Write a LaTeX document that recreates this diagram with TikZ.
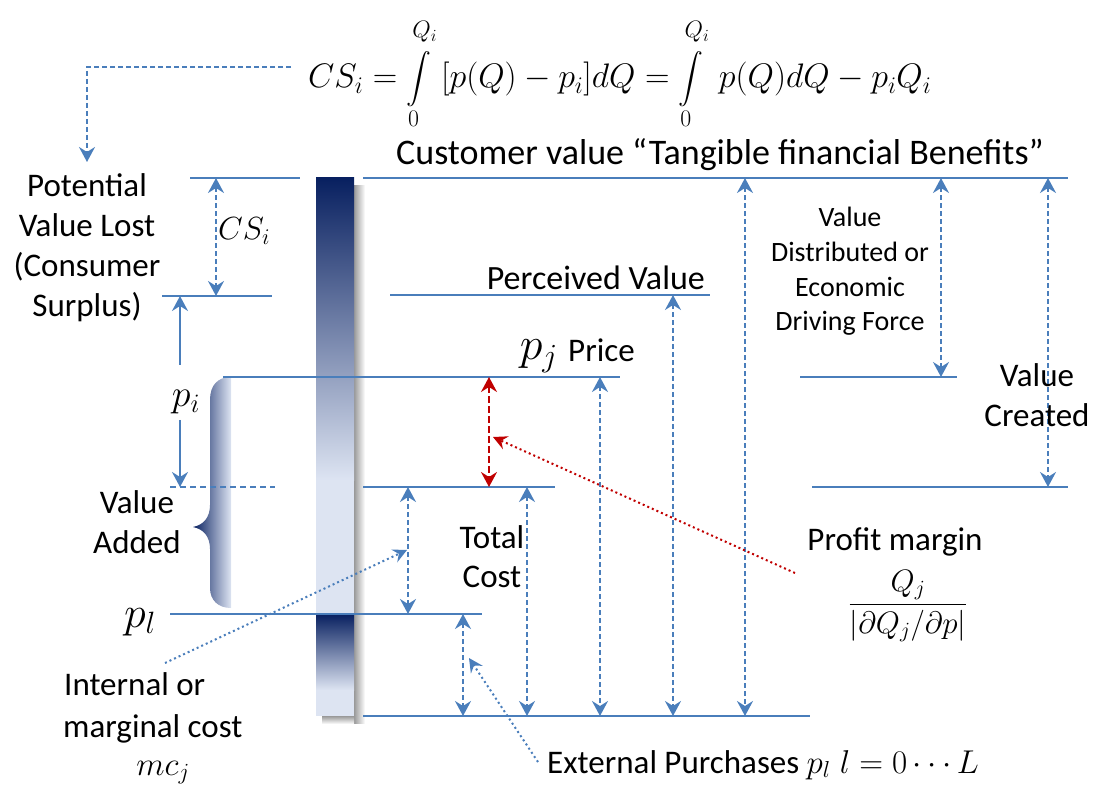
\RequirePackage{fix-cm}
\documentclass[tikz,border=0pt]{standalone}
\usepackage{amsmath}
\usepackage{fontspec}
\setmainfont{Carlito}
\usetikzlibrary{arrows.meta}
\definecolor{lblue}{RGB}{74,126,187}
\definecolor{navy}{RGB}{8,32,96}
\definecolor{pale}{RGB}{221,228,242}
\definecolor{dred}{RGB}{192,0,0}
\tikzset{
  hline/.style={draw=lblue, line width=2pt},
  dimarr/.style={draw=lblue, line width=1.8pt, dash pattern=on 5pt off 3pt,
    >={Stealth[length=15pt,width=16pt,inset=5pt]}, <->},
  redarr/.style={dimarr, draw=dred, line width=2pt, dash pattern=on 7pt off 3pt},
  solidarr/.style={draw=lblue, line width=1.8pt, -{Stealth[length=15pt,width=16pt,inset=5pt]}},
  pointer/.style={draw=lblue, line width=2pt, dash pattern=on 2pt off 3pt,
    -{Stealth[length=14pt,width=14pt,inset=5pt]}},
  redpointer/.style={pointer, draw=dred},
  txt/.style={font=\fontsize{33}{40}\selectfont, inner sep=0pt, anchor=base},
  smalltxt/.style={font=\fontsize{28}{35}\selectfont, inner sep=0pt, anchor=base},
  bigmath/.style={font=\fontsize{38}{44}\selectfont, inner sep=0pt, anchor=base}
}
\newcommand{\uplim}[1]{\raisebox{9pt}{$\scriptstyle #1$}}
\begin{document}
\begin{tikzpicture}[x=1pt,y=-1pt]
\useasboundingbox (0,0) rectangle (1096,786);
% gradient bar with shadow
\shade[left color=black!40, right color=white] (354,186) rectangle (365,723);
\shade[top color=black!40, bottom color=white] (322,716) rectangle (354,724);
\shade[top color=navy, bottom color=pale] (316,178) rectangle (354,480);
\fill[pale] (316,479.5) rectangle (354,614);
\shade[top color=navy, bottom color=pale] (316,614) rectangle (354,690);
\fill[pale] (316,689.5) rectangle (354,716);
% brace
\shade[left color=navy, right color=pale] (231,377) .. controls (218,377) and (210,385) .. (210,400)
  -- (210,505) .. controls (210,518) and (203,525) .. (193,527)
  .. controls (203,529) and (210,536) .. (210,549)
  -- (210,588) .. controls (210,600) and (218,608) .. (231,608) -- cycle;
% coordinates of levels
\coordinate (tl1) at (190,178); \coordinate (tl2) at (300,178);
\coordinate (tr1) at (363,178); \coordinate (tr2) at (1068,178);
\coordinate (cs1) at (162,296); \coordinate (cs2) at (272,296);
\coordinate (pv1) at (390,295); \coordinate (pv2) at (710,295);
\coordinate (pr1) at (223,377); \coordinate (pr2) at (620,377);
\coordinate (vd1) at (800,377); \coordinate (vd2) at (957,377);
\coordinate (pi1) at (170,487); \coordinate (pi2) at (275,487);
\coordinate (tc1) at (363,487); \coordinate (tc2) at (555,487);
\coordinate (vc1) at (812,487); \coordinate (vc2) at (1068,487);
\coordinate (pl1) at (170,614); \coordinate (pl2) at (482,614);
\coordinate (bt1) at (363,716); \coordinate (bt2) at (810,716);
\draw[hline] (tl1) -- (tl2);
\draw[hline] (tr1) -- (tr2);
\draw[hline] (cs1) -- (cs2);
\draw[hline] (pv1) -- (pv2);
\draw[hline] (pr1) -- (pr2);
\draw[hline] (vd1) -- (vd2);
\draw[hline, dash pattern=on 6pt off 4pt] (pi1) -- (pi2);
\draw[hline] (tc1) -- (tc2);
\draw[hline] (vc1) -- (vc2);
\draw[hline] (pl1) -- (pl2);
\draw[hline] (bt1) -- (bt2);
% vertical dimension arrows
\draw[dimarr] (216,178) -- (216,296);
\draw[redarr] (489,377) -- (489,487);
\draw[dimarr] (408,487) -- (408,614);
\draw[dimarr] (527,487) -- (527,716);
\draw[dimarr] (463,614) -- (463,716);
\draw[dimarr] (600,377) -- (600,716);
\draw[dimarr] (673,295) -- (673,716);
\draw[dimarr] (745,178) -- (745,716);
\draw[dimarr] (941,178) -- (941,377);
\draw[dimarr] (1048,178) -- (1048,487);
% p_i arrows
\node[bigmath] (pi) at (186,407) {$p_i$};
\coordinate (pa1) at (180,365); \coordinate (pa2) at (180,296);
\coordinate (pb1) at (180,420); \coordinate (pb2) at (180,487);
\draw[solidarr] (pa1) -- (pa2);
\draw[solidarr] (pb1) -- (pb2);
% formula
\node[anchor=base west, inner sep=0pt, font=\fontsize{34}{40}\selectfont] (formula) at (308,88)
  {$\displaystyle CS_i=\int\limits_0^{\uplim{Q_i}}\;[p(Q)-p_i]dQ=\int\limits_0^{\uplim{Q_i}}\;p(Q)dQ-p_iQ_i$};
\coordinate (f1) at (291,67); \coordinate (f2) at (87,67); \coordinate (f3) at (87,162);
\draw[draw=lblue, line width=1.8pt, dash pattern=on 5pt off 3pt, -{Stealth[length=15pt,width=16pt,inset=5pt]}]
  (f1) -- (f2) -- (f3);
% texts
\node[txt] (pot1) at (87,197) {Potential};
\node[txt] (pot2) at (87,237) {Value Lost};
\node[txt] (pot3) at (87,277) {(Consumer};
\node[txt] (pot4) at (87,317) {Surplus)};
\node[anchor=base west, inner sep=0pt, font=\fontsize{32}{40}\selectfont] (csl) at (218,240) {$CS_i$};
\node[txt, font=\fontsize{36}{42}\selectfont] (cv) at (720,165) {Customer value “Tangible financial Benefits”};
\node[txt, anchor=base east, font=\fontsize{34}{40}\selectfont] (pvt) at (705,290) {Perceived Value};
\node[bigmath, anchor=base east, font=\fontsize{46}{52}\selectfont] (pj) at (558,360) {$p_j$};
\node[txt, anchor=base west] (price) at (568,362) {Price};
\node[smalltxt] (vd1t) at (850,227) {Value};
\node[smalltxt] (vd2t) at (850,262) {Distributed or};
\node[smalltxt] (vd3t) at (850,297) {Economic};
\node[smalltxt] (vd4t) at (850,331) {Driving Force};
\node[txt] (vct1) at (1037,387) {Value};
\node[txt] (vct2) at (1037,427) {Created};
\node[txt] (va1) at (137,513) {Value};
\node[txt] (va2) at (137,553) {Added};
\node[txt] (tct1) at (492,548) {Total};
\node[txt] (tct2) at (492,587) {Cost};
\node[bigmath, font=\fontsize{44}{50}\selectfont] (pl) at (140,627) {$p_l$};
\node[txt, anchor=base west] (int1) at (64,695) {Internal or};
\node[txt, anchor=base west] (int2) at (63,737) {marginal cost};
\node[anchor=base, inner sep=0pt, font=\fontsize{33}{38}\selectfont] (mc) at (163,775) {$mc_j$};
\node[txt] (pm) at (895,550) {Profit margin};
\node[inner sep=0pt, font=\fontsize{31}{36}\selectfont] (frac) at (908,606)
  {$\dfrac{Q_j}{\left|\partial Q_j/\partial p\right|}$};
\node[txt, anchor=base west] (ext) at (547,773) {External Purchases $p_l\;l=0\cdots L$};
% pointers
\coordinate (ip1) at (165,663); \coordinate (ip2) at (407,550);
\draw[pointer] (ip1) -- (ip2);
\coordinate (rp1) at (795,573); \coordinate (rp2) at (493,437);
\draw[redpointer] (rp1) -- (rp2);
\coordinate (ep1) at (538,762); \coordinate (ep2) at (469,658);
\draw[pointer] (ep1) -- (ep2);
\end{tikzpicture}
\end{document}
